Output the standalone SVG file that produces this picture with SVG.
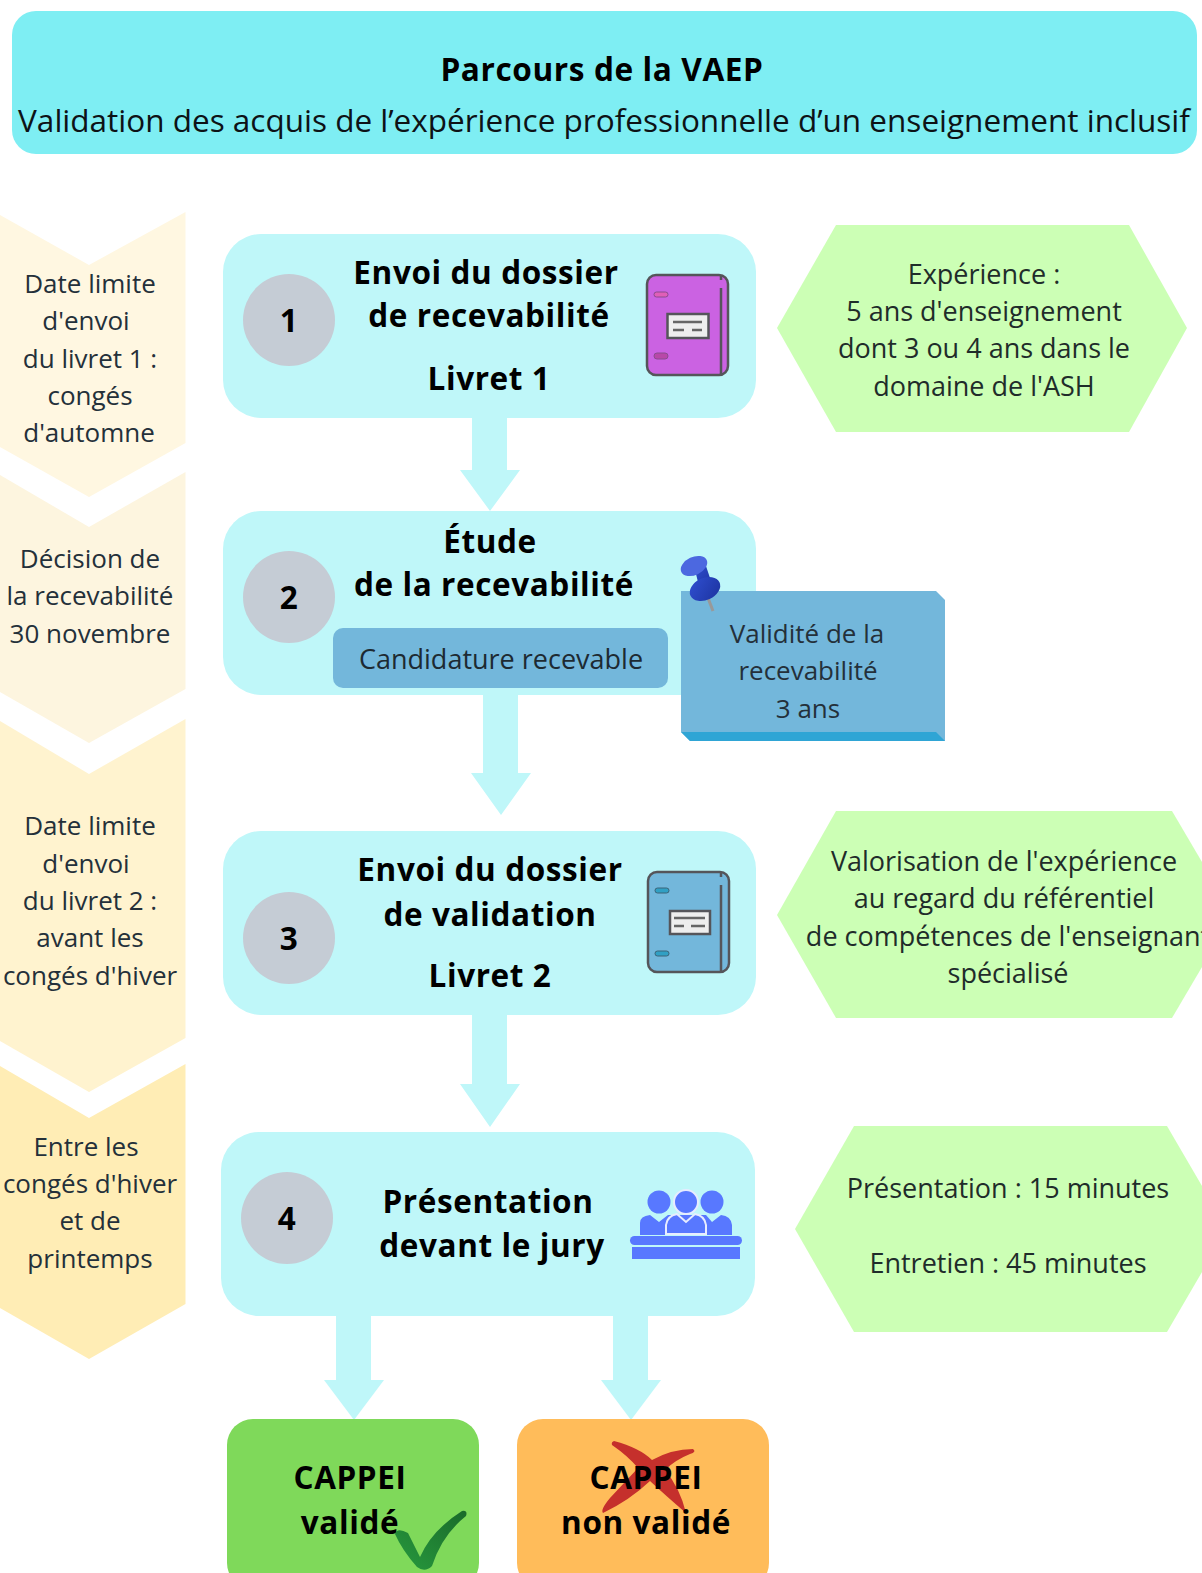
<svg xmlns="http://www.w3.org/2000/svg" width="1202" height="1573" viewBox="0 0 1202 1573">
<defs><style>
text{font-family:"Open Sans","Noto Sans","DejaVu Sans",sans-serif;text-anchor:middle;fill:#0d1216}
.b{font-weight:700;font-size:31.5px;letter-spacing:.6px;fill:#000}
.r{font-size:26px;fill:#24303a}
.i{font-size:27px;fill:#1f2c2a}
.s{font-size:27px;fill:#1d2a32}
.n{fill:#bff7f9}
.c{fill:#c5ccd5}
.h{fill:#ccffb5}
.ink{fill:none;stroke:#55555a;stroke-width:2.5}
</style>
<linearGradient id="chk" x1="0" y1="1" x2="1" y2="0"><stop offset="0" stop-color="#279a3e"/><stop offset="1" stop-color="#1a6a2a"/></linearGradient>
<linearGradient id="pinb" x1="0" y1="0" x2="1" y2="1"><stop offset="0" stop-color="#2f4fd0"/><stop offset="1" stop-color="#1d33a0"/></linearGradient>
</defs>
<rect width="1202" height="1573" fill="#fff"/>
<g id="header"><rect x="12" y="11" width="1185" height="143" rx="24" fill="#7eeef3"/>
<text x="602" y="81" class="b" style="font-size:31.6px">Parcours de la VAEP</text>
<text x="604" y="132" style="font-size:31.5px" fill="#16252c">Validation des acquis de l’expérience professionnelle d’un enseignement inclusif</text></g>
<g id="date1"><path d="M0 215L89 265L185.500 212V443L89 497L0 447Z" fill="#fff7e1"/>
<text class="r" x="90" y="293">Date limite</text><text class="r" x="86" y="330">d'envoi</text><text class="r" x="90" y="368">du livret 1 :</text><text class="r" x="90" y="405">congés</text><text class="r" x="89" y="442">d'automne</text></g>
<g id="date2"><path d="M0 475L89 527L185.500 472V689L89 743L0 692Z" fill="#fdf5df"/>
<text class="r" x="90" y="568">Décision de</text><text class="r" x="90" y="605">la recevabilité</text><text class="r" x="90" y="643">30 novembre</text></g>
<g id="date3"><path d="M0 721L89 774L185.500 719V1038L89 1092L0 1041Z" fill="#fff3cf"/>
<text class="r" x="90" y="835">Date limite</text><text class="r" x="86" y="873">d'envoi</text><text class="r" x="90" y="910">du livret 2 :</text><text class="r" x="90" y="947">avant les</text><text class="r" x="90" y="985">congés d'hiver</text></g>
<g id="date4"><path d="M0 1066L89 1118L185.500 1064V1304L89 1359L0 1308Z" fill="#ffedb5"/>
<text class="r" x="86" y="1156">Entre les</text><text class="r" x="90" y="1193">congés d'hiver</text><text class="r" x="90" y="1230">et de</text><text class="r" x="90" y="1268">printemps</text></g>
<g id="connectors" class="n">
<path d="M472 417H507V470H520L490 511L460 470H472Z"/>
<path d="M483 694H518V773H531L501 815L471 773H483Z"/>
<path d="M472 1014H507V1084H520L490 1127L460 1084H472Z"/>
<path d="M336 1316H371V1380H384L354 1420L324 1380H336Z"/>
<path d="M613 1316H648V1380H661L631 1420L601 1380H613Z"/>
</g>
<g id="step1"><rect x="223" y="234" width="533" height="184" rx="38" class="n"/><circle cx="289" cy="320" r="46" class="c"/>
<text x="289" y="332" class="b">1</text><text x="486" y="284" class="b">Envoi du dossier</text><text x="489" y="327" class="b">de recevabilité</text><text x="489" y="390" class="b">Livret 1</text>
<g id="book1"><rect x="647" y="275" width="81" height="100" rx="9" fill="#cb62e2" stroke="#55555a" stroke-width="2.500"/><path d="M721 288V375M721 275V280" class="ink"/><rect x="667.500" y="314" width="41" height="24" fill="#eee" stroke="#55555a" stroke-width="2.500"/><path d="M673 322H702M673 330H684M692 330H702" fill="none" stroke="#666" stroke-width="2.500"/><rect x="654" y="292" width="14" height="5" rx="2.500" fill="#e05fb8" stroke="#8a4c90"/><rect x="654" y="353" width="14" height="6" rx="3" fill="#b848a8" stroke="#8a4c90"/></g></g>
<g id="step2"><rect x="223" y="511" width="533" height="184" rx="38" class="n"/><circle cx="289" cy="597" r="46" class="c"/>
<text x="289" y="609" class="b">2</text><text x="490" y="553" class="b">Étude</text><text x="494" y="596" class="b">de la recevabilité</text>
<rect x="333" y="628" width="335" height="60" rx="10" fill="#73b7db"/><text x="501" y="669" class="s" fill="#14303f">Candidature recevable</text></g>
<g id="note"><path d="M681 591H936L945 600V741H690L681 732Z" fill="#73b7db"/><path d="M681 732H936L945 741H690Z" fill="#2fa5d5"/>
<text class="r" x="807" y="643" fill="#27455a">Validité de la</text><text class="r" x="808" y="680" fill="#27455a">recevabilité</text><text class="r" x="808" y="718" fill="#27455a">3 ans</text>
<g id="pin"><path d="M708 598L713 611" stroke="#999" stroke-width="3"/><path d="M695 570L706 566L712 584L692 590L698 582Z" fill="url(#pinb)"/><ellipse cx="705" cy="589" rx="16" ry="11" transform="rotate(-25 705 589)" fill="url(#pinb)"/><ellipse cx="694" cy="566" rx="14" ry="9" transform="rotate(-25 694 566)" fill="#4c68e0"/></g></g>
<g id="step3"><rect x="223" y="831" width="533" height="184" rx="38" class="n"/><circle cx="289" cy="938" r="46" class="c"/>
<text x="289" y="950" class="b">3</text><text x="490" y="881" class="b">Envoi du dossier</text><text x="490" y="926" class="b">de validation</text><text x="490" y="987" class="b">Livret 2</text>
<g id="book2"><rect x="648" y="872" width="81" height="100" rx="9" fill="#73b7db" stroke="#55555a" stroke-width="2.500"/><path d="M721 885V972M721 872V877" class="ink"/><rect x="670" y="911" width="40" height="23" fill="#eee" stroke="#55555a" stroke-width="2.500"/><path d="M674 918H705M674 926H684M691 926H705" fill="none" stroke="#666" stroke-width="2.500"/><rect x="655" y="888" width="14" height="5" rx="2.500" fill="#31a0c4" stroke="#3c6478"/><rect x="655" y="951" width="14" height="5" rx="2.500" fill="#31a0c4" stroke="#3c6478"/></g></g>
<g id="step4"><rect x="221" y="1132" width="534" height="184" rx="38" class="n"/><circle cx="287" cy="1218" r="46" class="c"/>
<text x="287" y="1230" class="b">4</text><text x="488" y="1213" class="b">Présentation</text><text x="492" y="1257" class="b">devant le jury</text>
<g id="jury" fill="#5878ff"><circle cx="659" cy="1202" r="11.500"/><circle cx="712" cy="1202" r="11.500"/><path d="M640 1235V1223Q640 1216 650 1215L659 1222L668 1215L706 1215L712 1222L721 1215Q731 1216 732 1225V1235Z"/><circle cx="686" cy="1202" r="12" stroke="#e7ecff" stroke-width="2"/><path d="M666 1234V1225Q667 1216 677 1214L686 1222L695 1214Q705 1216 706 1225V1234Z" stroke="#e7ecff" stroke-width="2"/><rect x="630" y="1236" width="112" height="9" rx="4.500"/><rect x="632" y="1247" width="108" height="12"/></g></g>
<g id="info1"><path d="M777 328L836 225H1129L1187 328L1129 432H836Z" class="h"/>
<text class="i" x="984" y="284">Expérience :</text><text class="i" x="984" y="321">5 ans d'enseignement</text><text class="i" x="984" y="358">dont 3 ou 4 ans dans le</text><text class="i" x="984" y="396">domaine de l'ASH</text></g>
<g id="info3"><path d="M777 915L836 811H1172L1202 862V967L1172 1018H836Z" class="h"/>
<text class="i" x="1004" y="871">Valorisation de l'expérience</text><text class="i" x="1004" y="908">au regard du référentiel</text><text class="i" x="1008" y="946">de compétences de l'enseignant</text><text class="i" x="1008" y="983">spécialisé</text></g>
<g id="info4"><path d="M795 1229L854 1126H1167L1202 1186V1272L1167 1332H854Z" class="h"/>
<text class="i" x="1008" y="1198">Présentation : 15 minutes</text><text class="i" x="1008" y="1273">Entretien : 45 minutes</text></g>
<g id="valide"><rect x="227" y="1419" width="252" height="170" rx="26" fill="#7fd95a"/><text class="b" x="350" y="1489">CAPPEI</text><text class="b" x="350" y="1534">validé</text>
<path d="M395 1534Q397 1527 408 1533Q414 1545 420 1557Q432 1530 462 1511Q468 1510 466 1516Q442 1535 432 1566Q425 1573 417 1567Q402 1550 395 1534Z" fill="url(#chk)"/></g>
<g id="nonvalide"><rect x="517" y="1419" width="252" height="170" rx="26" fill="#ffbc5a"/>
<path d="M614 1441Q640 1448 652 1460Q672 1449 693 1449Q697 1452 690 1454Q675 1460 665 1470Q680 1488 686 1513Q665 1495 650 1481Q630 1500 603 1513Q600 1510 610 1498Q625 1482 638 1468Q628 1456 612 1445Q611 1442 614 1441Z" fill="#c5302c"/>
<text class="b" x="646" y="1489">CAPPEI</text><text class="b" x="646" y="1534">non validé</text></g>
</svg>
